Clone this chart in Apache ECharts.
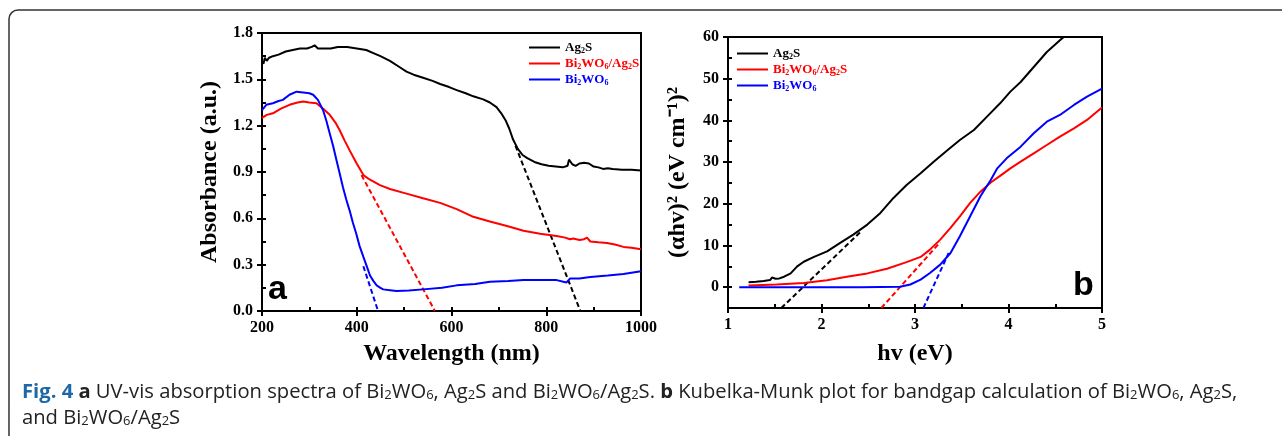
<!DOCTYPE html>
<html>
<head>
<meta charset="utf-8">
<title>Fig. 4 UV-vis / Kubelka-Munk</title>
<script src="https://cdn.jsdelivr.net/npm/echarts@6/dist/echarts.min.js"></script>
<style>
    html, body { margin: 0; padding: 0; background: #fff; }
    #main { width: 1282px; height: 436px; }
</style>
</head>
<body>
<div id="main"></div>
<script>
    // panel a: absorbance vs wavelength (nm)
    var agsAbs = [[200,1.62],[203,1.60],[206,1.64],[210,1.62],[215,1.64],[223,1.65],[235,1.66],[250,1.68],[265,1.69],[280,1.70],[295,1.70],[305,1.71],[311,1.72],[318,1.70],[330,1.70],[345,1.70],[360,1.71],[380,1.71],[400,1.70],[420,1.69],[435,1.67],[450,1.65],[470,1.62],[490,1.58],[505,1.55],[520,1.53],[540,1.51],[560,1.49],[576,1.47],[595,1.45],[611,1.43],[630,1.41],[646,1.39],[667,1.37],[681,1.35],[695,1.32],[705,1.28],[715,1.23],[722,1.18],[730,1.11],[740,1.05],[750,1.01],[760,0.99],[775,0.965],[790,0.95],[805,0.94],[820,0.935],[835,0.93],[845,0.94],[848,0.98],[851,0.97],[855,0.95],[862,0.94],[870,0.955],[880,0.96],[890,0.955],[900,0.935],[910,0.93],[920,0.92],[930,0.925],[940,0.92],[960,0.915],[980,0.915],[1000,0.91]]
    var compAbs = [[200,1.25],[210,1.27],[223,1.28],[240,1.31],[258,1.335],[275,1.35],[287,1.356],[300,1.35],[315,1.345],[329,1.31],[343,1.27],[355,1.22],[364,1.17],[375,1.10],[385,1.04],[399,0.96],[414,0.88],[428,0.85],[449,0.815],[470,0.79],[505,0.76],[540,0.73],[576,0.70],[611,0.66],[646,0.61],[681,0.58],[717,0.55],[752,0.52],[787,0.50],[822,0.485],[840,0.475],[850,0.465],[857,0.47],[870,0.46],[880,0.465],[886,0.475],[893,0.45],[910,0.445],[928,0.44],[945,0.43],[963,0.415],[980,0.41],[1000,0.40]]
    var bwoAbs = [[200,1.30],[209,1.335],[223,1.345],[235,1.36],[244,1.367],[258,1.40],[273,1.42],[287,1.415],[300,1.41],[308,1.40],[318,1.367],[329,1.30],[336,1.23],[343,1.15],[350,1.07],[357,0.98],[364,0.89],[371,0.80],[378,0.72],[385,0.65],[392,0.57],[399,0.50],[406,0.42],[414,0.35],[421,0.29],[428,0.23],[435,0.195],[442,0.166],[450,0.15],[456,0.14],[470,0.135],[484,0.13],[510,0.132],[540,0.14],[580,0.15],[611,0.166],[650,0.175],[681,0.19],[720,0.195],[752,0.20],[790,0.20],[822,0.20],[836,0.19],[843,0.185],[850,0.21],[870,0.21],[893,0.22],[930,0.23],[963,0.24],[1000,0.257]]
    // tangent lines used for the edge estimate
    var agsAbsFit = [[735,1.07],[872,0]]
    var compAbsFit = [[410,0.88],[565,0]]
    var bwoAbsFit = [[414,0.29],[445,0]]

    // panel b: (ahv)^2 vs photon energy (eV)
    var agsKM = [[1.22,1.2],[1.3,1.3],[1.38,1.5],[1.45,1.7],[1.47,2.3],[1.49,2.5],[1.51,2.0],[1.55,2.1],[1.6,2.5],[1.67,3.3],[1.74,5.0],[1.81,6.1],[1.92,7.25],[2.06,8.6],[2.2,10.6],[2.34,12.6],[2.49,15.0],[2.63,17.8],[2.77,21.4],[2.91,24.5],[3.06,27.3],[3.2,30.1],[3.34,32.7],[3.48,35.3],[3.63,37.7],[3.77,40.9],[3.91,44.1],[4.02,46.9],[4.13,49.2],[4.27,52.8],[4.41,56.4],[4.55,59.2],[4.6,60.2]]
    var compKM = [[1.22,0.4],[1.52,0.64],[1.81,1.0],[2.06,1.67],[2.27,2.5],[2.49,3.3],[2.7,4.4],[2.91,6.0],[3.06,7.25],[3.16,9.0],[3.27,11.4],[3.38,14.2],[3.48,17.0],[3.59,20.2],[3.7,22.9],[3.81,25.1],[3.91,26.7],[4.02,28.5],[4.13,30.1],[4.27,32.1],[4.41,34.1],[4.55,36.1],[4.7,38.1],[4.84,40.1],[5.0,43.1]]
    var bwoKM = [[1.12,0],[1.7,0],[2.42,0],[2.84,0.08],[2.95,0.64],[3.06,1.8],[3.16,3.4],[3.27,5.4],[3.38,8.2],[3.48,12.2],[3.59,17.0],[3.7,21.8],[3.81,25.7],[3.88,28.5],[3.98,30.9],[4.13,33.7],[4.27,36.9],[4.41,39.7],[4.55,41.3],[4.7,43.7],[4.84,45.7],[5.0,47.6]]
    var agsKMFit = [[1.57,-5],[2.42,13.3]]
    var compKMFit = [[2.64,-5],[3.27,10.8]]
    var bwoKMFit = [[3.09,-5],[3.36,8.2]]

    // tick labels
    var bYTicks = [0, 10, 20, 30, 40, 50, 60]

    var seriesNames = ['Ag2S', 'Bi2WO6/Ag2S', 'Bi2WO6']
    var seriesColors = ['#000000', '#ff0000', '#0000ff']
    var richNames = {
        'Ag2S': '{n|Ag}{s|2}{n|S}',
        'Bi2WO6/Ag2S': '{n|Bi}{s|2}{n|WO}{s|6}{n|/Ag}{s|2}{n|S}',
        'Bi2WO6': '{n|Bi}{s|2}{n|WO}{s|6}'
    }

    var serif = 'Liberation Serif'
    var tickFont = {fontFamily: serif, fontWeight: 'bold', fontSize: 16, color: '#000'}
    var nameFont = {fontFamily: serif, fontWeight: 'bold', fontSize: 24, color: '#000'}

    function curve(name, data, color, xi) {
        return {
            name: name, type: 'line', data: data, xAxisIndex: xi, yAxisIndex: xi * 2,
            showSymbol: false, symbol: 'none', clip: true,
            lineStyle: {color: color, width: 2}, itemStyle: {color: color},
            emphasis: {disabled: true}, z: 3
        }
    }

    function fit(data, color, xi) {
        return {
            name: 'fit', type: 'line', data: data, xAxisIndex: xi, yAxisIndex: xi * 2,
            showSymbol: false, symbol: 'none', clip: true,
            lineStyle: {color: color, width: 2, type: [5, 3]},
            emphasis: {disabled: true}, z: 2
        }
    }

    function legendFor(left, top) {
        return {
            orient: 'vertical', left: left, top: top, itemGap: 2,
            icon: 'rect', itemWidth: 31, itemHeight: 2, selectedMode: false,
            data: seriesNames.map(function (n, i) {
                return {name: n, textStyle: {color: seriesColors[i]}}
            }),
            formatter: function (n) { return richNames[n] },
            textStyle: {
                fontFamily: serif, fontWeight: 'bold', fontSize: 13,
                rich: {
                    n: {fontFamily: serif, fontWeight: 'bold', fontSize: 13},
                    s: {fontFamily: serif, fontWeight: 'bold', fontSize: 8, verticalAlign: 'bottom', padding: [0, 0, -1, 0]}
                }
            }
        }
    }

    var capFont = 'Open Sans'
    var subRich = {
        f: {fontFamily: capFont, fontWeight: 'bold', fontSize: 20.2, fill: '#1f68a8'},
        b: {fontFamily: capFont, fontWeight: 'bold', fontSize: 20.2, fill: '#222'},
        s: {fontFamily: capFont, fontSize: 13, fill: '#222', verticalAlign: 'bottom'}
    }

    var chart = echarts.init(document.getElementById('main'))
    chart.setOption({
        backgroundColor: '#fff',
        animation: false,
        grid: [
            {left: 262, top: 33, width: 379, height: 278, show: true, borderColor: '#000', borderWidth: 2, backgroundColor: 'transparent'},
            {left: 728, top: 37, width: 374, height: 271, show: true, borderColor: '#000', borderWidth: 2, backgroundColor: 'transparent'}
        ],
        legend: [legendFor(524, 36), legendFor(732, 42)],
        xAxis: [
            {
                type: 'value', gridIndex: 0, min: 200, max: 1000, interval: 200,
                name: 'Wavelength (nm)', nameLocation: 'middle', nameGap: 31, nameTextStyle: nameFont,
                axisLine: {lineStyle: {color: '#000', width: 2}},
                axisTick: {length: 5, lineStyle: {color: '#000', width: 2}},
                axisLabel: Object.assign({margin: 9, formatter: function (v) { return String(v) }}, tickFont),
                splitLine: {show: false}
            },
            {
                type: 'value', gridIndex: 1, min: 1, max: 5, interval: 1,
                name: 'hv (eV)', nameLocation: 'middle', nameGap: 34, nameTextStyle: nameFont,
                axisLine: {onZero: false, lineStyle: {color: '#000', width: 2}},
                axisTick: {length: 5, lineStyle: {color: '#000', width: 2}},
                axisLabel: Object.assign({margin: 9}, tickFont),
                splitLine: {show: false}
            },
            // inside ticks at half steps
            {
                type: 'value', gridIndex: 0, min: 200, max: 1000, interval: 100, position: 'bottom',
                axisLine: {show: false}, axisLabel: {show: false}, splitLine: {show: false},
                axisTick: {inside: true, length: 4, lineStyle: {color: '#000', width: 2}}
            },
            {
                type: 'value', gridIndex: 1, min: 1, max: 5, interval: 0.5, position: 'bottom',
                axisLine: {show: false, onZero: false}, axisLabel: {show: false}, splitLine: {show: false},
                axisTick: {inside: true, length: 4, lineStyle: {color: '#000', width: 2}}
            }
        ],
        yAxis: [
            {
                type: 'value', gridIndex: 0, min: 0, max: 1.8, interval: 0.3,
                name: 'Absorbance (a.u.)', nameLocation: 'middle', nameGap: 40, nameTextStyle: nameFont,
                axisLine: {lineStyle: {color: '#000', width: 2}},
                axisTick: {length: 5, lineStyle: {color: '#000', width: 2}},
                axisLabel: Object.assign({margin: 9, formatter: function (v) { return v.toFixed(1) }}, tickFont),
                splitLine: {show: false}
            },
            {
                type: 'value', gridIndex: 0, min: 0, max: 1.8, interval: 0.15, position: 'left',
                axisLine: {show: false}, axisLabel: {show: false}, splitLine: {show: false},
                axisTick: {inside: true, length: 4, lineStyle: {color: '#000', width: 2}}
            },
            {
                type: 'value', gridIndex: 1, min: -5, max: 60,
                name: '(αhv)² (eV cm⁻¹)²', nameLocation: 'middle', nameGap: 38, nameTextStyle: nameFont,
                axisLine: {onZero: false, lineStyle: {color: '#000', width: 2}},
                axisTick: {length: 5, customValues: bYTicks, lineStyle: {color: '#000', width: 2}},
                axisLabel: Object.assign({margin: 9, customValues: bYTicks}, tickFont),
                splitLine: {show: false}
            },
            {
                type: 'value', gridIndex: 1, min: -5, max: 60, interval: 5, position: 'left',
                axisLine: {show: false, onZero: false}, axisLabel: {show: false}, splitLine: {show: false},
                axisTick: {inside: true, length: 4, lineStyle: {color: '#000', width: 2}}
            }
        ],
        series: [
            curve('Ag2S', agsAbs, seriesColors[0], 0),
            curve('Bi2WO6/Ag2S', compAbs, seriesColors[1], 0),
            curve('Bi2WO6', bwoAbs, seriesColors[2], 0),
            fit(agsAbsFit, seriesColors[0], 0),
            fit(compAbsFit, seriesColors[1], 0),
            fit(bwoAbsFit, seriesColors[2], 0),
            curve('Ag2S', agsKM, seriesColors[0], 1),
            curve('Bi2WO6/Ag2S', compKM, seriesColors[1], 1),
            curve('Bi2WO6', bwoKM, seriesColors[2], 1),
            fit(agsKMFit, seriesColors[0], 1),
            fit(compKMFit, seriesColors[1], 1),
            fit(bwoKMFit, seriesColors[2], 1)
        ],
        graphic: [
            // figure frame, open to the right and bottom
            {type: 'rect', shape: {x: 9, y: 10, width: 1400, height: 600, r: 9}, style: {fill: 'none', stroke: '#333', lineWidth: 1.5}, silent: true},
            // panel letters
            {type: 'text', left: 268, top: 273, style: {text: 'a', font: 'bold 34px "Liberation Sans"', fill: '#000'}, z: 10},
            {type: 'text', left: 1073, top: 269, style: {text: 'b', font: 'bold 34px "Liberation Sans"', fill: '#000'}, z: 10},
            // caption
            {
                type: 'text', left: 22, top: 382,
                style: {
                    text: '{f|Fig. 4} {b|a} UV-vis absorption spectra of Bi{s|2}WO{s|6}, Ag{s|2}S and Bi{s|2}WO{s|6}/Ag{s|2}S. {b|b} Kubelka-Munk plot for bandgap calculation of Bi{s|2}WO{s|6}, Ag{s|2}S,',
                    font: '20.2px "Open Sans"', fill: '#222', rich: subRich
                }
            },
            {
                type: 'text', left: 22, top: 408,
                style: {
                    text: 'and Bi{s|2}WO{s|6}/Ag{s|2}S',
                    font: '20.2px "Open Sans"', fill: '#222', rich: subRich
                }
            }
        ]
    })
</script>
</body>
</html>
